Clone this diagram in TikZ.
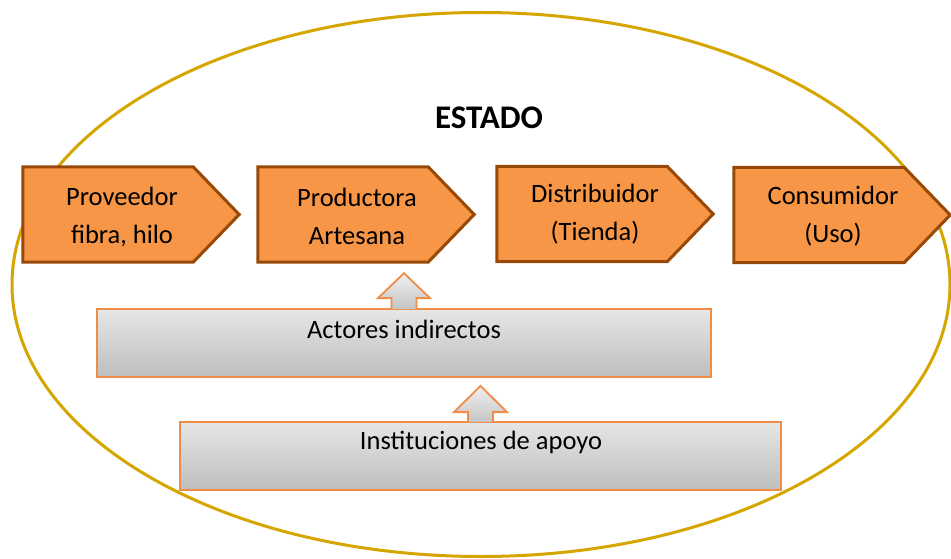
\documentclass[tikz,border=0pt]{standalone}
\usepackage{fontspec}
\setmainfont{Carlito}
\usetikzlibrary{calc}
\definecolor{gold}{RGB}{214,166,0}
\definecolor{chevfill}{RGB}{247,150,70}
\definecolor{chevline}{RGB}{152,72,7}
\definecolor{grayline}{RGB}{240,140,70}
\definecolor{gtop}{RGB}{230,230,230}
\definecolor{gbot}{RGB}{190,190,190}
\newcommand\chevpath[1]{\draw[chev] (#1.north west) -- ($(#1.north east)+(-46,0)$) -- (#1.east) -- ($(#1.south east)+(-46,0)$) -- (#1.south west) -- cycle;}
\begin{document}
\begin{tikzpicture}[x=1pt,y=-1pt,
  chev/.style={fill=chevfill, draw=chevline, line width=3pt, line join=miter},
  chevbox/.style={inner sep=0pt, minimum width=216pt, minimum height=95pt},
  lbl/.style={font=\fontsize{26.5}{38}\selectfont, align=center, inner sep=0pt},
  graybox/.style={draw=grayline, line width=1.8pt, top color=gtop, bottom color=gbot, inner sep=0pt, minimum height=68pt},
  uparrow/.style={draw=grayline, line width=1.8pt, top color=gtop!60!white, bottom color=gbot!90!white, line join=miter},
]
\useasboundingbox (0,0) rectangle (951,559);
% Estado ellipse
\draw[gold, line width=3pt] (481,284.5) ellipse [x radius=469, y radius=272];
\node[font=\fontsize{33}{36}\selectfont\bfseries, inner sep=0pt] (estado) at (489,118) {ESTADO};
% chain
\node[chevbox] (c1) at (131,214.5) {};
\node[chevbox] (c2) at (366,214.5) {};
\node[chevbox] (c3) at (605,214) {};
\node[chevbox] (c4) at (842,215) {};
\chevpath{c1}
\chevpath{c2}
\chevpath{c3}
\chevpath{c4}
\node[lbl] (t1) at ($(c1.center)+(-9,2)$) {Proveedor\\fibra, hilo};
\node[lbl] (t2) at ($(c2.center)+(-9,2)$) {Productora\\Artesana};
\node[lbl] (t3) at ($(c3.center)+(-10,0)$) {Distribuidor\\(Tienda)};
\node[lbl] (t4) at ($(c4.center)+(-9,1)$) {Consumidor\\(Uso)};
% gray boxes
\node[graybox, minimum width=614pt] (act) at (404,343) {};
\node[lbl] (actt) at (404,329) {Actores indirectos};
\node[graybox, minimum width=601pt] (inst) at (480.5,456) {};
\node[lbl] (instt) at (481,442) {Instituciones de apoyo};
% block arrows
\draw[uparrow] ($(act.north)+(-12.5,1)$) -- ($(act.north)+(-12.5,-10)$) -- ($(act.north)+(-26,-10)$)
  -- ($(act.north |- c2.south)+(0,11)$)
  -- ($(act.north)+(26,-10)$) -- ($(act.north)+(12.5,-10)$) -- ($(act.north)+(12.5,1)$);
\draw[uparrow] ($(inst.north)+(-12.5,1)$) -- ($(inst.north)+(-12.5,-9)$) -- ($(inst.north)+(-26.5,-9)$)
  -- ($(inst.north |- act.south)+(0,8)$)
  -- ($(inst.north)+(26.5,-9)$) -- ($(inst.north)+(12.5,-9)$) -- ($(inst.north)+(12.5,1)$);
\end{tikzpicture}
\end{document}
